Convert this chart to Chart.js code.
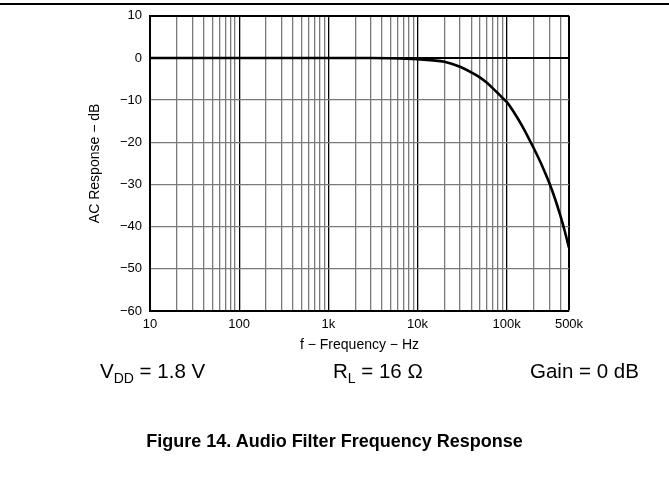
<!DOCTYPE html>
<html>
<head>
<meta charset="utf-8">
<script src="https://cdn.jsdelivr.net/npm/chart.js@4/dist/chart.umd.min.js"></script>
<style>
  html, body { margin: 0; padding: 0; background: #fff; }
  body { width: 669px; height: 498px; position: relative; overflow: hidden;
         font-family: "Liberation Sans", Arial, sans-serif; color: #000; }
  #wrap { position: absolute; left: 0; top: 0; width: 669px; height: 498px; }
  #rule { position: absolute; left: 0; top: 3px; width: 669px; height: 2px; background: #000; }
  .note { position: absolute; top: 359px; font-size: 20.5px; white-space: nowrap; }
  .note sub { font-size: 14px; vertical-align: -5px; line-height: 0; }
  #title { position: absolute; left: 0; width: 669px; top: 431px; text-align: center;
           font-size: 18px; font-weight: bold; }
</style>
</head>
<body>
<div id="rule"></div>
<div id="wrap"><canvas id="graph"></canvas></div>
<div class="note" style="left:100px">V<sub>DD</sub> = 1.8 V</div>
<div class="note" style="left:333px">R<sub>L</sub> = 16 &Omega;</div>
<div class="note" style="left:530px">Gain = 0 dB</div>
<div id="title">Figure 14. Audio Filter Frequency Response</div>
<script>
// frequency response (Hz, dB)
const freqs = [10, 100, 1000, 3000, 5000, 10000, 20000, 30000, 40000, 50000, 60000,
               70000, 80000, 90000, 100000, 120000, 150000, 200000, 250000, 300000,
               350000, 400000, 450000, 500000];
const responseDb = [0, 0, 0, 0, -0.05, -0.3, -0.9, -2.1, -3.4, -4.6, -5.9,
                    -7.2, -8.4, -9.5, -10.4, -12.8, -16.2, -21.3, -25.6, -29.6,
                    -33.5, -37.4, -41.2, -45];

const xGrid = [10, 20, 30, 40, 50, 60, 70, 80, 90,
               100, 200, 300, 400, 500, 600, 700, 800, 900,
               1000, 2000, 3000, 4000, 5000, 6000, 7000, 8000, 9000,
               10000, 20000, 30000, 40000, 50000, 60000, 70000, 80000, 90000,
               100000, 200000, 300000, 400000, 500000];
const xTickValues = [10, 100, 1000, 10000, 100000, 500000];
const xTickLabels = ['10', '100', '1k', '10k', '100k', '500k'];
const yTicks = [-60, -50, -40, -30, -20, -10, 0, 10];

const canvas = document.querySelector('#graph');
const ctx = canvas.getContext('2d');
const family = '"Liberation Sans", Arial, sans-serif';
const tickFont = { family, size: 13 };
const titleFont = { family, size: 14 };
const decades = [10, 100, 1000, 10000, 100000, 500000];

const points = freqs.map((f, i) => ({ x: f, y: responseDb[i] }));

new Chart(ctx, {
    type: 'line',
    data: {
        datasets: [{
            data: points,
            borderColor: '#000',
            borderWidth: 2.6,
            pointRadius: 0,
            cubicInterpolationMode: 'monotone',
            fill: false
        }]
    },
    options: {
        responsive: true,
        maintainAspectRatio: false,
        animation: false,
        layout: { padding: { left: 83, top: 15, right: 100, bottom: 144.6 } },
        plugins: { legend: { display: false }, tooltip: { enabled: false } },
        scales: {
            x: {
                type: 'logarithmic',
                min: 10,
                max: 500000,
                afterBuildTicks: (scale) => { scale.ticks = xGrid.map(v => ({ value: v })); },
                afterFit: (scale) => { scale.height = 42.4; },
                ticks: {
                    autoSkip: false,
                    maxRotation: 0,
                    padding: 6,
                    color: '#000',
                    font: tickFont,
                    callback: (v) => {
                        const k = xTickValues.indexOf(v);
                        return k >= 0 ? xTickLabels[k] : '';
                    }
                },
                grid: {
                    drawTicks: false,
                    color: (c) => decades.includes(c.tick.value) ? '#000' : '#7a7a7a',
                    lineWidth: (c) => c.tick.value === 500000 ? 2 : 1.3
                },
                border: { color: '#000', width: 2 },
                title: { display: true, text: 'f \u2212 Frequency \u2212 Hz', color: '#000', font: titleFont, padding: 0 }
            },
            y: {
                min: -60,
                max: 10,
                afterBuildTicks: (scale) => { scale.ticks = yTicks.map(v => ({ value: v })); },
                afterFit: (scale) => { scale.width = 67; },
                ticks: {
                    padding: 8,
                    color: '#000',
                    font: tickFont,
                    callback: (v) => v < 0 ? '\u2212' + Math.abs(v) : String(v)
                },
                grid: {
                    drawTicks: false,
                    color: (c) => (c.tick.value === 0 || c.tick.value === 10) ? '#000' : '#7a7a7a',
                    lineWidth: (c) => (c.tick.value === 0 || c.tick.value === 10) ? 2 : 1.3
                },
                border: { color: '#000', width: 2 },
                title: { display: true, text: 'AC Response \u2212 dB', color: '#000', font: titleFont, padding: { top: 4, bottom: 4 } }
            }
        }
    }
});
</script>
</body>
</html>
